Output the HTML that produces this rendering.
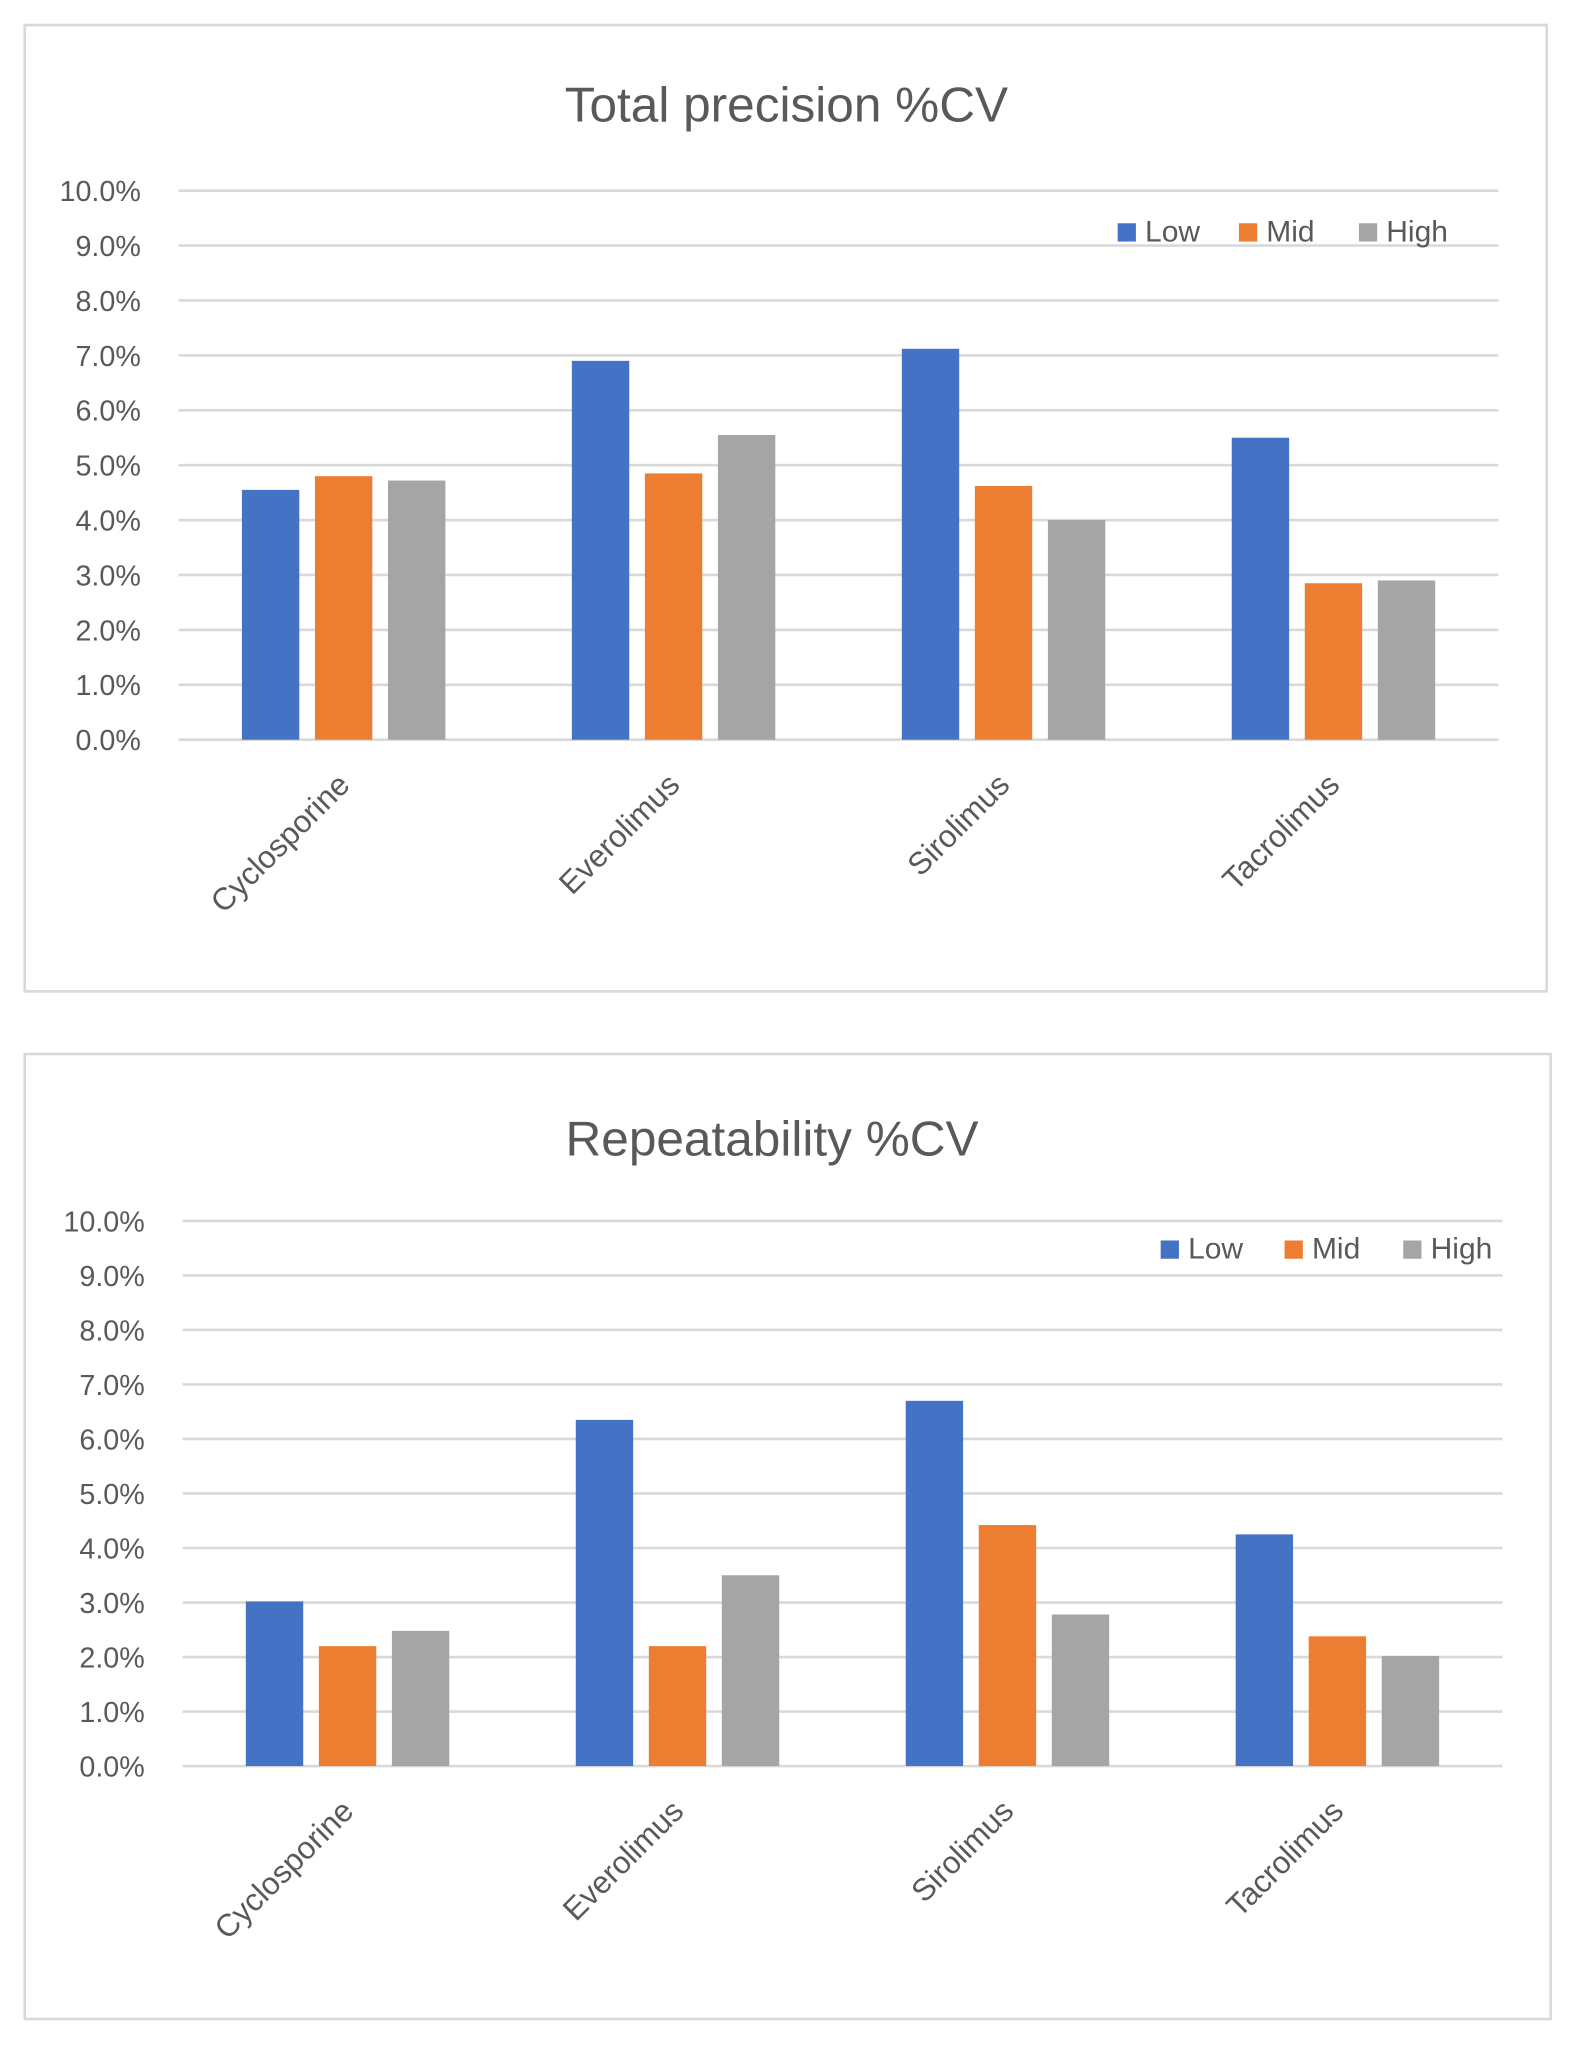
<!DOCTYPE html>
<html><head><meta charset="utf-8"><style>
html,body{margin:0;padding:0;background:#fff;}
svg{display:block;}
text{font-family:"Liberation Sans",sans-serif;fill:#595959;}
</style></head><body>
<svg id="root" width="1578" height="2048" viewBox="0 0 1210 1570" xmlns="http://www.w3.org/2000/svg"></svg>
<script>
const categories = ["Cyclosporine","Everolimus","Sirolimus","Tacrolimus"];
const seriesNames = ["Low","Mid","High"];
const totalLow = [4.55, 6.9, 7.12, 5.5];
const totalMid = [4.8, 4.85, 4.62, 2.85];
const totalHigh = [4.72, 5.55, 4.0, 2.9];
const repLow = [3.02, 6.35, 6.7, 4.25];
const repMid = [2.2, 2.2, 4.42, 2.38];
const repHigh = [2.48, 3.5, 2.78, 2.02];
const tickValues = [0,1,2,3,4,5,6,7,8,9,10];
const tickLabels = ["0.0%","1.0%","2.0%","3.0%","4.0%","5.0%","6.0%","7.0%","8.0%","9.0%","10.0%"];
const colors = ["#4472C4","#ED7D31","#A5A5A5"];
const NS="http://www.w3.org/2000/svg";
const root=document.getElementById('root');
function mk(tag,attrs,parent){const e=document.createElementNS(NS,tag);for(const k in attrs)e.setAttribute(k,attrs[k]);(parent||root).appendChild(e);return e;}

function drawChart(cfg){
  const g=mk('g',{});
  
  
  const fr=mk('rect',{x:cfg.fx,y:cfg.fy,width:cfg.fw,height:cfg.fh,fill:'#fff',stroke:'#d9d9d9','stroke-width':2},g);
  
  
  const t=mk('text',{x:cfg.tx,y:cfg.ty,'text-anchor':'middle','font-size':38},g);
  t.textContent=cfg.title;
  
  
  const yScale=v=>cfg.y0-(v/10)*(cfg.y0-cfg.y10);
  tickValues.forEach((v,i)=>{
    const y=yScale(v);
    const l=mk('line',{x1:cfg.left,x2:cfg.right,y1:y,y2:y,stroke:'#d9d9d9','stroke-width':2},g);
    
    
    const tl=mk('text',{x:cfg.left-29,y:y+8,'text-anchor':'end','font-size':22},g);
    tl.textContent=tickLabels[i];
    
    
  });
  const gw=(cfg.right-cfg.left)/categories.length;
  const bw=44, pitch=56;
  categories.forEach((c,ci)=>{
    const cx=cfg.left+gw*(ci+0.5);
    cfg.series.forEach((arr,si)=>{
      const x=cx+(si-1)*pitch-bw/2;
      const y=yScale(arr[ci]);
      const r=mk('rect',{x:x,y:y,width:bw,height:yScale(0)-y,fill:colors[si]},g);
      
      
    });
    const lx=cx+6, ly=cfg.y0+36;
    const ct=mk('text',{x:lx,y:ly,'text-anchor':'end','font-size':24,transform:'rotate(-45 '+lx+' '+ly+')'},g);
    ct.textContent=c;
    
    
  });
  seriesNames.forEach((n,si)=>{
    const sx=cfg.legX[si];
    const sq=mk('rect',{x:sx,y:cfg.legY-14,width:14,height:14,fill:colors[si]},g);
    
    
    const lt=mk('text',{x:sx+21,y:cfg.legY,'font-size':23},g);
    lt.textContent=n;
    
    
  });
}
drawChart({name:'total-precision-chart',title:'Total precision %CV',fx:19,fy:19,fw:1167,fh:741,tx:603,ty:93,
  left:137,right:1149,y0:567,y10:146,series:[totalLow,totalMid,totalHigh],legX:[857,950,1042],legY:185});
drawChart({name:'repeatability-chart',title:'Repeatability %CV',fx:19,fy:808,fw:1170,fh:740,tx:592,ty:886,
  left:140,right:1152,y0:1354,y10:936,series:[repLow,repMid,repHigh],legX:[890,985,1076],legY:965});
</script>
</body></html>
